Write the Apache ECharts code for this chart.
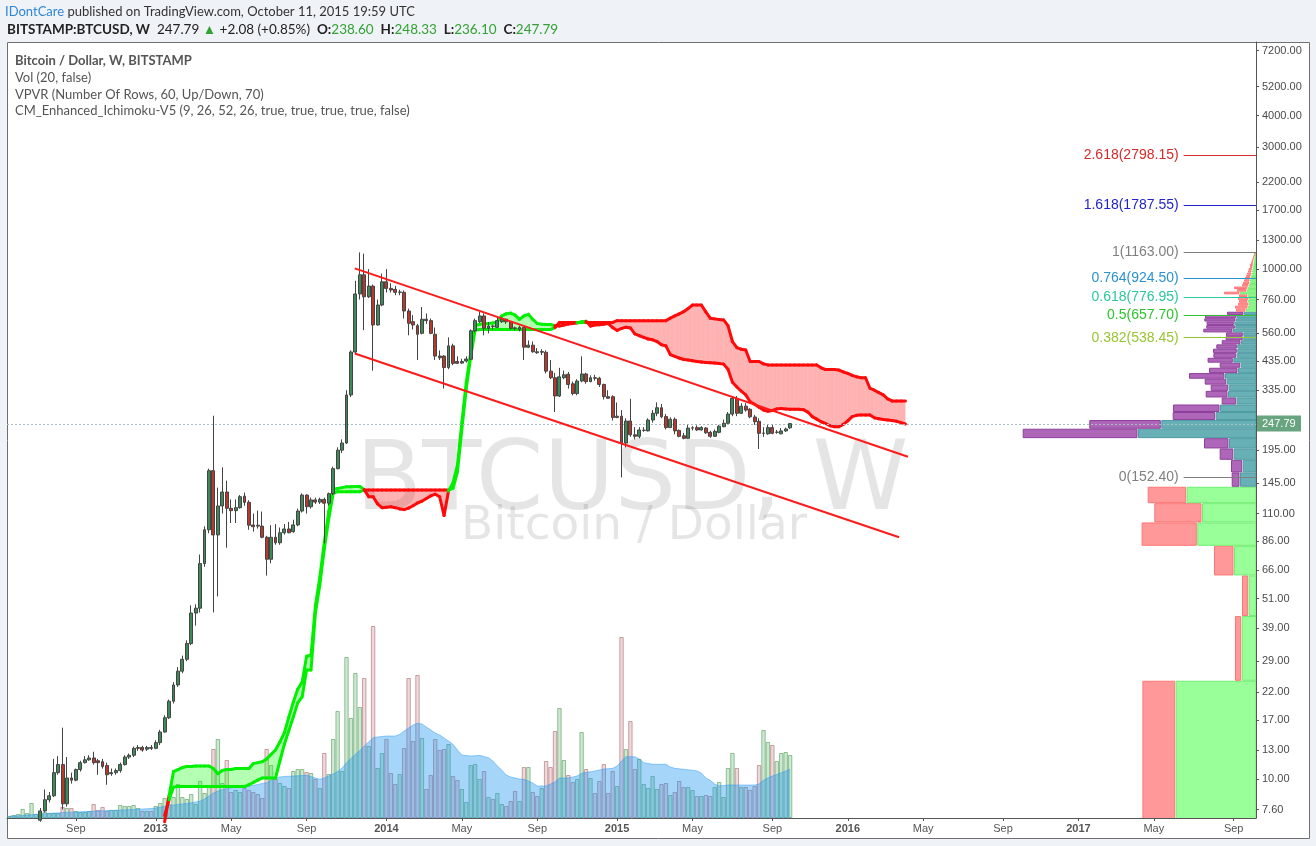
<!DOCTYPE html>
<html><head><meta charset="utf-8">
<script src="https://cdn.jsdelivr.net/npm/echarts@6/dist/echarts.min.js"></script>
<style>html,body{margin:0;padding:0;background:#eff2f6;}#c{width:1316px;height:846px;}</style>
</head><body><div id="c"></div>
<script>
// ---------------- DATA ----------------
const firstWeek = '2012-05-21';           // weekly bars, Monday starts
// [open, high, low, close]
const ohlc = [
[5.10,5.20,5.00,5.12],[5.12,5.30,5.05,5.25],[5.25,5.60,5.20,5.55],[5.55,6.50,5.50,6.40],[6.40,6.70,6.20,6.45],
[6.45,6.75,6.40,6.65],[6.65,7.00,6.55,6.90],[6.90,7.70,6.80,7.50],[7.50,9.10,7.40,8.30],[8.30,8.90,8.10,8.60],
[8.60,12.0,8.50,10.6],[10.6,12.3,10.4,11.4],[11.4,15.9,7.60,8.00],[8.00,12.2,7.80,10.1],[10.1,10.6,9.60,9.90],
[9.90,11.0,9.80,10.9],[10.9,11.8,10.7,11.6],[11.6,12.3,11.5,11.9],[11.9,12.4,11.8,12.1],[12.1,12.8,11.4,11.6],
[11.8,12.0,10.4,11.6],[11.7,12.0,11.0,11.2],[11.3,11.6,9.50,10.4],[10.5,11.0,10.3,10.6],[10.6,11.0,10.4,10.8],
[10.8,11.6,10.6,11.4],[11.4,12.4,11.3,12.2],[12.2,12.6,12.0,12.4],[12.4,13.4,12.2,13.2],[13.2,13.6,12.9,13.3],
[13.3,13.5,12.8,13.0],[13.1,13.5,12.9,13.3],[13.3,13.6,13.0,13.2],[13.2,14.2,13.1,13.9],[13.9,15.6,13.6,15.3],
[15.3,17.8,15.2,17.4],[17.4,20.5,17.2,20.2],[20.2,24.0,19.8,23.4],[23.4,27.5,23.0,26.5],[26.5,30.5,26.0,29.5],
[29.5,35.0,29.0,34.0],[34.0,48.0,33.5,44.8],[44.8,48.5,40.0,46.8],[46.8,76.0,45.0,70.0],[70.0,98.0,68.0,95.0],
[95.0,165,92.0,162],[162,266,45.0,90.7],[90.7,139,52.0,117.8],[117.8,167,110,133.6],[133.6,148,80.8,115.3],
[115.3,125,101,112.9],[112.9,125,101,116],[116,130,115,128.1],[128.7,133,118,121.7],[121.7,124,95.0,99.0],
[99.2,110,93.4,97.7],[99.0,113,96.0,98.2],[98.2,112,88.0,88.8],[88.8,90.0,62.8,72.8],[72.8,99.0,70.2,88.8],
[88.8,100,83.0,84.5],[84.5,97.0,83.0,92.5],[92.5,100,91.0,95.7],[95.7,102,92.0,92.5],[93.4,104,92.5,99.3],
[99.3,115,98.0,112.5],[112.5,132,111,130],[130,131,110,117],[117,127,115,124.4],[124.4,127,120,122],
[122,127,120,125],[125,127,84.0,120.8],[120.8,133,118,131.6],[131.6,168,130,165],[165,200,164,195],
[195,215,190,208],[208,335,206,321],[321,480,315,473],[473,900,465,799],[799,1163,760,950],
[950,1150,576,779],[779,1000,770,858],[858,870,400,604],[604,760,600,723],[723,960,715,892],
[892,1000,810,840],[840,880,810,828],[833,860,790,811],[811,830,790,813],[811,825,640,685],
[685,700,550,613],[622,660,580,604],[600,610,440,555],[560,710,555,636],[636,670,610,628],
[628,640,555,560],[555,590,440,456],[456,480,440,449],[456,460,340,411],[411,540,405,500],
[500,510,420,427],[434,455,425,427],[428,445,425,434],[436,455,430,444],[443,580,440,573],
[573,640,565,628],[622,680,615,655],[655,670,550,586],[586,620,560,598],[598,605,580,596],
[591,650,588,628],[622,650,615,636],[636,640,610,622],[622,625,580,586],[588,595,575,586],
[580,600,570,591],[591,595,440,494],[494,525,490,503],[503,520,470,474],[474,490,465,470],
[472,485,460,475],[472,480,390,398],[398,440,370,375],[375,392,275,318],[318,410,315,378],
[375,400,370,385],[387,395,340,353],[355,362,320,325],[325,370,320,364],[364,455,360,388],
[388,392,355,362],[362,383,360,375],[375,385,365,373],[373,378,345,353],[353,355,308,316],
[316,335,310,311.5],[316,320,255,262],[262,300,260,265],[265,280,152.4,208],[208,260,200,253.7],
[253.7,310,220,224],[224,240,215,221],[221,240,217,234],[233,240,230,233.5],[232,260,231,256],
[256,280,250,272],[272,300,265,286],[286,296,260,263.5],[264,270,235,239],[239,262,238,257.6],
[257.6,262,225,232],[233,235,219,221],[222,228,215,217],[217,245,216,238],[238,242,233,238.5],
[239,244,232,234],[234,242,233,239],[238,240,226,228],[229,232,218,221],[221,235,220,231],
[229,245,227,242],[241,257,240,248.5],[248.5,275,247,270],[270,318,265,311],[311,318,265,272],
[272,298,270,290],[290,298,276,280],[282,285,260,263.5],[263,268,245,252],[253,260,197,227],
[227,240,220,227.5],[226,245,224,239],[239,245,225,227],[229,234,226,229.5],[226,238,225,232],
[232,239,230,236],[238.60,248.33,236.10,247.79]
];
const volumes = [
2,3,4,9,5,15,4,5,6,5, 5,5,11,10,10,7,6,6,7,14, 8,11,7,8,8,13,12,12,13,10, 7,7,7,12,15,20,14,21,34,21,
19,24,14,37,25,33,69,79,35,58, 26,28,26,30,28,26,24,20,69,53, 39,35,32,30,47,49,49,46,45,39,
30,65,44,79,107,47,161,100,145,111, 140,72,192,50,65,79,45,34,44,70, 140,77,143,80,29,43,79,68,69,74,
42,38,29,16,53,54,39,47,21,19, 25,14,12,17,27,17,51,51,26,22, 30,57,51,87,110,58,43,36,39,86,
49,40,25,37,54,25,47,32,181,69, 97,49,59,34,30,42,29,34,35,23, 26,37,31,31,28,22,22,23,22,31,
36,21,50,65,50,31,31,28,32,53, 88,76,73,57,65,66,63
];
const volumeMA = [
2,2,2.2,2.5,3,3.3,3.7,4,4.3,4.6, 4.9,5.1,5.4,5.6,5.8,6,6.2,6.4,6.6,6.8, 7,7.2,7.4,7.6,7.7,7.9,8.1,8.3,8.5,8.8,
9,9.2,9.5,10,10.8,11.8,12.5,13,13.6,14.1, 14.5,15.2,16,16.8,19,22,25,27,28.3,29.3, 30.2,30.8,31.2,31.6,32,32.7,33.5,34.5,35.3,37.5,
40.3,41,41.5,41.8,42,42.2,42.4,42.7,41.5,40, 38.7,40,42,44,46.5,50,55.3,59.5,63.7,67.5, 72,76,80.3,81,81.5,82,82,82,
83.7,87,90,93,94.7,94,91,88,85,83, 80,77,73.7,68,63,62.5,62,62.3,62.7,61.5, 60.3,57,52,48,43,41,40,39,38.7,37,
35,32,32,32,34,36,40,40,40,41, 42,44.7,45.5,46.3,47,48,49,49.3,49.7,52, 57,61.3,61.3,61.3,59,55.3,54.5,53.7,53.7,53.7,
53.7,51,49.7,49.2,48.7,48.2,47.8,47,45,40, 37.7,34,32,32.5,33,33,33,33,33,33, 33,34,37.7,40,42,43.5,45.3,47,48.7
];
// Ichimoku leading spans (already displaced 26 weeks), from bar index 35
const cloudStartIndex = 35;
const senkouA = [
6.8,8.6,10.7,10.9,11.1,11.2,11.2,11.25,11.25,11.25, 11.25,11.0,10.5,10.8,10.9,10.9,11.0,11.0,11.0,11.0,
11.5,11.6,11.7,12.0,12.5,13.0,14.0,15.2,17.5,20.0, 22.5,24.0,30.3,30.6,48,62,85,112,137,138,
139,140,140,140.5,140.5,136.5,128,128,120,116, 116.5,117,116,114.7,114,115.5,118,121,123,126,
129,131,128,108,135,145,170,250,360,470, 600,608,610,612,615,620,655,668,672,660,
635,655,665,635,612,608,606,606,600,598, 603,609,612,615,622,624,598,604,605,608,
612,590,575,585,592,588,557,548,540,532, 528,520,505,500,462,455,448,442,440,437,
434,432,430,429,428,426,424,405,360,345, 332,321,302,295,287,280,277,279,283,284,
283,282,282,282,281,275,264,258,252,248, 243,241,241,246,254,264,267,268,268,268,
261,259,257,256,255,253,250,247
];
const senkouB = [
7.2,8.3,9.3,9.35,9.35,9.35,9.35,9.35,9.35,9.35, 9.35,9.35,9.35,9.35,9.35,9.35,9.35,9.35,9.35,9.5,
9.7,9.9,10.1,10.1,10.1,10.1,11.8,13.7,15.5,17.5, 19.9,21.0,26.8,26.8,45,58,80,105,132,134,
134,134,134,134,134,136,136,136,136,136, 136,136,136,136,136,136,136,136,136,136,
136,136,136,136,136,138,160,235,341,453, 577,580,580,580,580,580,580,580,580,580,
580,580,580,580,580,580,580,580,590,618, 618,618,618,618,618,618,618,618,618,618,
618,618,628,628,628,628,628,628,628,628, 628,628,628,628,642,655,667,681,700,723,
723,723,680,642,638,635,632,600,520,492, 485,482,434,434,434,425,421,421,421,421,
421,421,421,421,421,421,421,421,410,404, 404,404,402,395,390,383,378,375,375,341,
335,328,321,310,304,304,304,304
];
// Volume profile (60 rows, linear price rows from 5 to 1163), down / up volume per row
const vpRowLow = 5, vpRowStep = 19.3;
const vpDown = [33.3,6.7,6.7,20,55.7,47.7,39,8.3,11.7,14, 25,115.3,72,43,47,15,22.3,18,22,36,
 29,21,25.7,23.3,24.3,21,19.3,17.7,17.3,29.7, 29,27.7,31.7,32,17,10,13,11,9,11,
 9,16,10,14,7,7,6,6,5,5, 4,4,3,3.5,2.5,2.5,2,1.5,1.2,1];
const vpUp = [80.3,14.3,7.3,22,58.7,54,69.3,16,13.3,22.3, 27,118,94.7,40.3,36,19.3,28,27.3,29.3,31,
 18,15.3,22.7,19.3,18.7,18.7,15,12.7,12.7,23, 20.7,21.7,20,19,12,10,8,7,8,7,
 8,16,9,8,7,6,6,5,5,4, 4,3.5,3,2.7,2.5,2,1.7,1.5,1.3,1];
const valueAreaRows = [7, 34];
// Fibonacci levels
const fibRatios = ['0','0.382','0.5','0.618','0.764','1','1.618','2.618'];
const fibPrices = [152.40,538.45,657.70,776.95,924.50,1163.00,1787.55,2798.15];
const fibColors = ['#7f7f7f','#98c533','#2fc42f','#2cc89b','#2a92cf','#7f7f7f','#2323cf','#d42a2a'];
const fibStartDate = '2017-06-17';
// Channel trend lines
const channelUpper = [['2013-11-17',1007],['2016-04-08',183.8]];
const channelLower = [['2013-11-17',467],['2016-03-25',88.8]];
// Axis ticks
const yTicks = [7200,5200,4000,3000,2200,1700,1300,1000,760,560,435,335,195,145,110,86,66,51,39,29,22,17,13,10,7.6];
const xTickDates = ['2012-09-03','2013-01-07','2013-05-06','2013-09-02','2014-01-06','2014-05-05','2014-09-01',
 '2015-01-05','2015-05-04','2015-09-07','2016-01-04','2016-05-02','2016-09-05','2017-01-02','2017-05-01','2017-09-04'];
const lastPrice = 247.79;

// ---------------- BUILD ----------------
const DAY = 864e5;
const ln = Math.log;
const T = s => Date.parse(s + 'T00:00:00Z');
const t0 = T(firstWeek);
const weeks = ohlc.map((_, i) => t0 + i * 7 * DAY);
const lastT = weeks[weeks.length - 1];
const PXDAY = 4.436 / 7;              // layout: pixels per day
const xMin = lastT - (790.1 - 7) / PXDAY * DAY;
const xMax = lastT + (1256 - 790.1) / PXDAY * DAY;
const PXLN = 110.74;                  // layout: pixels per ln unit
const yMax = ln(7200) + (50.5 - 42) / PXLN;
const yMin = ln(7200) - (818 - 50.5) / PXLN;
const MONTHS = ['Jan','Feb','Mar','Apr','May','Jun','Jul','Aug','Sep','Oct','Nov','Dec'];
const AX_FONT = '"Liberation Sans", Arial, sans-serif';

const candleData = weeks.map((t, i) => [t, ln(ohlc[i][0]), ln(ohlc[i][3]), ln(ohlc[i][2]), ln(ohlc[i][1])]);
const volData = weeks.map((t, i) => {
  const up = ohlc[i][3] >= ohlc[i][0];
  return { value: [t, volumes[i]], itemStyle: {
    color: up ? 'rgba(70,165,80,0.26)' : 'rgba(180,95,110,0.24)',
    borderColor: up ? 'rgba(70,150,80,0.55)' : 'rgba(170,95,100,0.55)', borderWidth: 1 } };
});
const maData = weeks.map((t, i) => [t, volumeMA[i]]);

const cloudData = [];
for (let j = 0; j < senkouA.length - 1; j++) {
  const k = cloudStartIndex + j;
  cloudData.push([t0 + k * 7 * DAY, t0 + (k + 1) * 7 * DAY, ln(senkouA[j]), ln(senkouA[j + 1]), ln(senkouB[j]), ln(senkouB[j + 1])]);
}
const vpData = vpUp.map((u, i) => [u + vpDown[i], ln(vpRowLow + vpRowStep * i), ln(vpRowLow + vpRowStep * (i + 1)), u, vpDown[i],
  (i >= valueAreaRows[0] && i <= valueAreaRows[1]) ? 1 : 0]);

const fibLines = fibPrices.map((p, i) => [
  { coord: [T(fibStartDate), ln(p)], lineStyle: { color: fibColors[i], width: 1, type: 'solid' },
    label: { show: true, position: 'start', distance: 5, formatter: fibRatios[i] + '(' + p.toFixed(2) + ')',
      color: fibColors[i], fontSize: 14, fontFamily: AX_FONT } },
  { coord: [xMax, ln(p)] }
]);

const chart = echarts.init(document.getElementById('c'), null, { renderer: 'canvas' });
const xTickVals = xTickDates.map(T);
const option = {
  animation: false,
  backgroundColor: '#eff2f6',
  grid: [
    { left: 7, right: 60, top: 42, bottom: 28 },
    { left: 7, right: 60, top: 42, bottom: 28 }
  ],
  xAxis: [
    { type: 'value', gridIndex: 0, min: xMin, max: xMax, scale: true,
      axisLine: { show: true, onZero: false, lineStyle: { color: '#555', width: 1 } },
      axisTick: { show: true, length: 3, lineStyle: { color: '#555' }, customValues: xTickVals },
      axisLabel: { show: true, customValues: xTickVals, margin: 5, color: '#555', fontSize: 11, fontFamily: AX_FONT,
        formatter: v => { const d = new Date(v); const m = d.getUTCMonth(); return m === 0 ? '{y|' + d.getUTCFullYear() + '}' : MONTHS[m]; },
        rich: { y: { fontWeight: 'bold', fontSize: 11, color: '#555', fontFamily: AX_FONT } } },
      splitLine: { show: false } },
    { type: 'value', gridIndex: 1, min: xMin, max: xMax, scale: true, show: false },
    { type: 'value', gridIndex: 0, min: 0, max: 1249, inverse: true, show: false, position: 'top' }
  ],
  yAxis: [
    { type: 'value', gridIndex: 0, position: 'right', min: yMin, max: yMax, scale: true,
      axisLine: { show: true, onZero: false, lineStyle: { color: '#555', width: 1 } },
      axisTick: { show: true, inside: false, length: 3, lineStyle: { color: '#555' }, customValues: yTicks.map(ln) },
      axisLabel: { show: true, customValues: yTicks.map(ln), margin: 6, color: '#4a4a4a', fontSize: 11, fontFamily: AX_FONT,
        formatter: v => { const t = yTicks.find(x => Math.abs(ln(x) - v) < 1e-6); return t ? t.toFixed(2) : ''; } },
      splitLine: { show: false } },
    { type: 'value', gridIndex: 1, min: 0, max: 776, show: false }
  ],
  series: [
    { type: 'bar', name: 'Vol', xAxisIndex: 1, yAxisIndex: 1, data: volData, barWidth: 4.4, z: 1, silent: true },
    { type: 'line', name: 'VolMA', xAxisIndex: 1, yAxisIndex: 1, data: maData, showSymbol: false, symbol: 'none',
      lineStyle: { color: 'rgba(33,150,243,0.45)', width: 1 }, areaStyle: { color: 'rgba(33,150,243,0.4)', opacity: 1 }, z: 2, silent: true },
    { type: 'custom', name: 'Cloud', xAxisIndex: 0, yAxisIndex: 0, data: cloudData, encode: { x: [0, 1], y: [2, 3, 4, 5] }, z: 3, silent: true,
      renderItem: (params, api) => {
        const ta = api.value(0), tb = api.value(1);
        const a0 = api.value(2), a1 = api.value(3), b0 = api.value(4), b1 = api.value(5);
        const pA0 = api.coord([ta, a0]), pA1 = api.coord([tb, a1]), pB0 = api.coord([ta, b0]), pB1 = api.coord([tb, b1]);
        const green = (a0 + a1) >= (b0 + b1);
        const stroke = green ? '#00f000' : '#ff0a0a';
        return { type: 'group', children: [
          { type: 'polygon', shape: { points: [pA0, pA1, pB1, pB0] }, style: { fill: green ? 'rgba(0,255,0,0.3)' : 'rgba(255,0,0,0.3)' } },
          { type: 'line', shape: { x1: pA0[0], y1: pA0[1], x2: pA1[0], y2: pA1[1] }, style: { stroke, lineWidth: 3, lineCap: 'round' } },
          { type: 'line', shape: { x1: pB0[0], y1: pB0[1], x2: pB1[0], y2: pB1[1] }, style: { stroke, lineWidth: 3, lineCap: 'round' } }
        ] };
      } },
    { type: 'custom', name: 'VPVR', xAxisIndex: 2, yAxisIndex: 0, data: vpData, encode: { x: [0], y: [1, 2] }, z: 4, clip: true, silent: true,
      renderItem: (params, api) => {
        const lo = api.value(1), hi = api.value(2), up = api.value(3), dn = api.value(4), va = api.value(5);
        const pR = api.coord([0, lo]), pT = api.coord([0, hi]);
        const xR = pR[0], yB = pR[1], yT = pT[1];
        const xU = api.coord([up, lo])[0], xD = api.coord([up + dn, lo])[0];
        const h = Math.max(1, yB - yT - 1);
        const upFill = va ? '#66b0b6' : '#99ff99', upStroke = va ? '#4f9ba2' : '#70ee70';
        const dnFill = va ? '#ae66b8' : '#ff9999', dnStroke = va ? '#8e3f9c' : '#ff7575';
        return { type: 'group', children: [
          { type: 'rect', shape: { x: xU + 0.5, y: yT + 0.5, width: xR - xU - 0.5, height: h }, style: { fill: upFill, stroke: upStroke, lineWidth: 1 } },
          { type: 'rect', shape: { x: xD + 0.5, y: yT + 0.5, width: Math.max(0.5, xU - xD - 1.5), height: h }, style: { fill: dnFill, stroke: dnStroke, lineWidth: 1 } }
        ] };
      } },
    { type: 'candlestick', name: 'BTCUSD', xAxisIndex: 0, yAxisIndex: 0, data: candleData, encode: { x: 0, y: [1, 2, 3, 4] },
      barWidth: 3.4, z: 5, silent: true,
      itemStyle: { color: '#3c8a5a', color0: '#b8392c', borderColor: '#444', borderColor0: '#444', borderWidth: 1 },
      markLine: { silent: true, symbol: ['none', 'none'], label: { show: false },
        lineStyle: { type: [2, 2], color: '#a9bcc4', width: 1 }, data: [{ yAxis: ln(lastPrice) }] } },
    { type: 'line', name: 'ChannelUpper', xAxisIndex: 0, yAxisIndex: 0, data: channelUpper.map(p => [T(p[0]), ln(p[1])]),
      symbol: 'none', lineStyle: { color: '#ff1a1a', width: 2 }, z: 6, silent: true,
      markLine: { silent: true, symbol: ['none', 'none'], data: fibLines } },
    { type: 'line', name: 'ChannelLower', xAxisIndex: 0, yAxisIndex: 0, data: channelLower.map(p => [T(p[0]), ln(p[1])]),
      symbol: 'none', lineStyle: { color: '#ff1a1a', width: 2 }, z: 6, silent: true }
  ]
};
chart.setOption(option);

const py = chart.convertToPixel({ yAxisIndex: 0 }, ln(lastPrice));
const TXT = 'Lato, "Open Sans", sans-serif';
const WM = '"DejaVu Sans", Verdana, sans-serif';
chart.setOption({ graphic: [
  { type: 'rect', z: -100, shape: { x: 7.5, y: 42.5, width: 1302, height: 796 }, style: { fill: '#ffffff', stroke: '#6f6f6f', lineWidth: 1 }, silent: true },
  { type: 'text', z: -50, style: { x: 632, y: 435, text: 'BTCUSD, W', fontSize: 97, fontFamily: WM, fill: 'rgba(0,0,0,0.1)', align: 'center', verticalAlign: 'alphabetic' }, silent: true },
  { type: 'text', z: -50, style: { x: 634, y: 503, text: 'Bitcoin / Dollar', fontSize: 47, fontFamily: WM, fill: 'rgba(0,0,0,0.1)', align: 'center', verticalAlign: 'alphabetic' }, silent: true },
  { type: 'text', z: 10, style: { x: 5, y: 12, verticalAlign: 'middle', fontSize: 13, fontFamily: TXT, fill: '#333',
      text: '{u|IDontCare} published on TradingView.com, October 11, 2015 19:59 UTC',
      rich: { u: { fill: '#2f86d6', fontSize: 13, fontFamily: TXT } } }, silent: true },
  { type: 'text', z: 10, style: { x: 7, y: 29.5, verticalAlign: 'middle', fontSize: 13.5, fontFamily: TXT, fill: '#222',
      text: '{b|BITSTAMP:BTCUSD, W}  247.79 {g|▲} +2.08 (+0.85%)  {b|O:}{g|238.60}  {b|H:}{g|248.33}  {b|L:}{g|236.10}  {b|C:}{g|247.79}',
      rich: { b: { fontWeight: 'bold', fill: '#222', fontSize: 13.5, fontFamily: TXT }, g: { fill: '#33a133', fontSize: 13.5, fontFamily: TXT } } }, silent: true },
  { type: 'text', z: 10, style: { x: 15, y: 61, verticalAlign: 'middle', fontSize: 13, fontFamily: TXT, fill: '#555', fontWeight: 'bold', text: 'Bitcoin / Dollar, W, BITSTAMP' }, silent: true },
  { type: 'text', z: 10, style: { x: 15, y: 78, verticalAlign: 'middle', fontSize: 13, fontFamily: TXT, fill: '#555', text: 'Vol (20, false)' }, silent: true },
  { type: 'text', z: 10, style: { x: 15, y: 94.5, verticalAlign: 'middle', fontSize: 13, fontFamily: TXT, fill: '#555', text: 'VPVR (Number Of Rows, 60, Up/Down, 70)' }, silent: true },
  { type: 'text', z: 10, style: { x: 15, y: 111, verticalAlign: 'middle', fontSize: 13, fontFamily: TXT, fill: '#555', text: 'CM_Enhanced_Ichimoku-V5 (9, 26, 52, 26, true, true, true, true, false)' }, silent: true },
  { type: 'rect', z: 100, shape: { x: 1257, y: py - 8, width: 44, height: 16 }, style: { fill: '#68a47f' }, silent: true },
  { type: 'text', z: 101, style: { x: 1262, y: py, verticalAlign: 'middle', text: lastPrice.toFixed(2), fill: '#ffffff', fontSize: 11, fontFamily: AX_FONT }, silent: true }
] });
</script></body></html>
